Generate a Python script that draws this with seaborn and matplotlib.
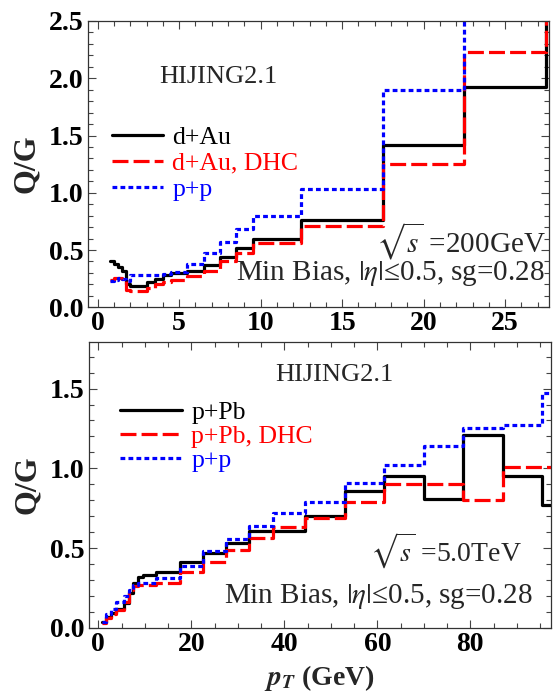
import matplotlib
matplotlib.use("Agg")
import matplotlib.pyplot as plt
from matplotlib.ticker import MultipleLocator, FormatStrFormatter
import seaborn as sns

# RHIC panel (d+Au, 200 GeV): bin edges and Q/G per bin
rhic_edges = [0.75, 1.0, 1.25, 1.5, 1.75, 2.0, 2.5, 3.0, 3.5, 4.0, 4.5, 5.5, 6.5,
              7.5, 8.5, 9.5, 12.5, 17.5, 22.5, 27.5, 32.5]
rhic_dau = [0.40, 0.38, 0.35, 0.32, 0.20, 0.19, 0.19, 0.22, 0.25, 0.28, 0.30, 0.32,
            0.37, 0.44, 0.52, 0.60, 0.76, 1.42, 1.92, 3.0]
rhic_dau_dhc = [0.24, 0.26, 0.26, 0.25, 0.15, 0.14, 0.14, 0.17, 0.20, 0.22, 0.24, 0.27,
                0.32, 0.40, 0.47, 0.56, 0.71, 1.25, 2.23, 3.0]
rhic_pp = [0.23, 0.24, 0.26, 0.25, 0.23, 0.28, 0.28, 0.28, 0.28, 0.29, 0.31, 0.38,
           0.47, 0.57, 0.68, 0.80, 1.03, 1.90, 2.8, 2.8]

# LHC panel (p+Pb, 5.0 TeV)
lhc_edges = [0.75, 1.75, 2.75, 3.75, 5.5, 6.5, 7.5, 8.5, 9.5, 12.5, 17.5, 22.5, 27.5,
             32.5, 37.5, 44.5, 53, 61.5, 70, 78.5, 87, 95.5, 100]
lhc_ppb = [0.035, 0.07, 0.093, 0.12, 0.155, 0.22, 0.28, 0.32, 0.33, 0.35, 0.41, 0.47,
           0.53, 0.61, 0.61, 0.70, 0.86, 0.95, 0.81, 1.21, 0.95, 0.77]
lhc_ppb_dhc = [0.03, 0.06, 0.09, 0.11, 0.165, 0.24, 0.26, 0.27, 0.27, 0.28, 0.35, 0.41,
               0.49, 0.565, 0.63, 0.69, 0.79, 0.90, 0.90, 0.80, 1.01, 1.01]
lhc_pp = [0.04, 0.09, 0.12, 0.165, 0.20, 0.24, 0.27, 0.28, 0.28, 0.31, 0.39, 0.48,
          0.56, 0.64, 0.72, 0.79, 0.91, 1.02, 1.14, 1.25, 1.27, 1.47]

sns.set_style("ticks")
plt.rcParams["font.family"] = ["Liberation Serif", "DejaVu Serif"]
plt.rcParams["mathtext.fontset"] = "stix"

LW = 2.3
styles = [
    dict(color="black", linestyle="-"),
    dict(color="red", linestyle=(0, (5.0, 1.6))),
    dict(color="blue", linestyle=(0, (1.5, 1.0))),
]


def draw_steps(ax, edges, series, labels):
    for vals, lab, st in zip(series, labels, styles):
        y = list(vals) + [vals[-1]]
        sns.lineplot(x=edges, y=y, ax=ax, drawstyle="steps-post", lw=LW,
                     estimator=None, sort=False, label=lab, **st)


def style_axes(ax, xmaj, xmin, ymaj, ymin):
    ax.xaxis.set_major_locator(MultipleLocator(xmaj))
    ax.xaxis.set_minor_locator(MultipleLocator(xmin))
    ax.yaxis.set_major_locator(MultipleLocator(ymaj))
    ax.yaxis.set_minor_locator(MultipleLocator(ymin))
    ax.yaxis.set_major_formatter(FormatStrFormatter("%.1f"))
    ax.tick_params(which="both", direction="in", top=True, right=True,
                   width=0.8, colors="#444444", labelcolor="black")
    ax.tick_params(which="major", length=6, labelsize=20, pad=3)
    ax.tick_params(which="minor", length=3.5)
    for lab in ax.get_xticklabels() + ax.get_yticklabels():
        lab.set_fontweight("bold")
    for sp in ax.spines.values():
        sp.set_linewidth(0.9)
        sp.set_color("#333333")
    ax.set_ylabel("Q/G", fontsize=23, fontweight="bold", labelpad=6)


fig = plt.figure(figsize=(5.53, 7.0), dpi=100)
ax1 = fig.add_axes([0.159, 0.561, 0.834, 0.409])
ax2 = fig.add_axes([0.161, 0.103, 0.835, 0.408])

# top panel
draw_steps(ax1, rhic_edges, [rhic_dau, rhic_dau_dhc, rhic_pp],
           ["d+Au", "d+Au, DHC", "p+p"])
ax1.set_xlim(-0.6, 27.7)
ax1.set_ylim(0, 2.5)
style_axes(ax1, 5, 1, 0.5, 0.1)
ax1.set_xlabel("")
ax1.legend(loc="center left", bbox_to_anchor=(0.052, 0.503), frameon=False,
           fontsize=18.5, labelcolor="linecolor", handlelength=2.0,
           handletextpad=0.35, labelspacing=0.12, borderpad=0, borderaxespad=0)
ax1.text(0.282, 0.804, "HIJING2.1", transform=ax1.transAxes, fontsize=19,
         ha="center", va="center")
ax1.text(0.993, 0.193, r"$\sqrt{s}$ =200GeV", transform=ax1.transAxes,
         fontsize=21, ha="right", va="baseline")
ax1.text(0.991, 0.094, r"Min Bias, $|\eta|$≤0.5, sg=0.28", transform=ax1.transAxes,
         fontsize=21, ha="right", va="baseline")

# bottom panel
draw_steps(ax2, lhc_edges, [lhc_ppb, lhc_ppb_dhc, lhc_pp],
           ["p+Pb", "p+Pb, DHC", "p+p"])
ax2.set_xlim(-2, 97.3)
ax2.set_ylim(0, 1.79)
style_axes(ax2, 20, 5, 0.5, 0.1)
ax2.set_xlabel(r"$\mathbfit{p}_{\mathbfit{T}}$ (GeV)", fontsize=20,
               fontweight="bold", labelpad=4)
ax2.legend(loc="center left", bbox_to_anchor=(0.066, 0.671), frameon=False,
           fontsize=18.5, labelcolor="linecolor", handlelength=2.45,
           handletextpad=0.35, labelspacing=0.04, borderpad=0, borderaxespad=0)
ax2.text(0.532, 0.886, "HIJING2.1", transform=ax2.transAxes, fontsize=19,
         ha="center", va="center")
ax2.text(0.937, 0.231, r"$\sqrt{s}$ =5.0TeV", transform=ax2.transAxes,
         fontsize=20, ha="right", va="baseline")
ax2.text(0.961, 0.087, r"Min Bias, $|\eta|$≤0.5, sg=0.28", transform=ax2.transAxes,
         fontsize=21, ha="right", va="baseline")

fig.savefig("out.png", dpi=100)
